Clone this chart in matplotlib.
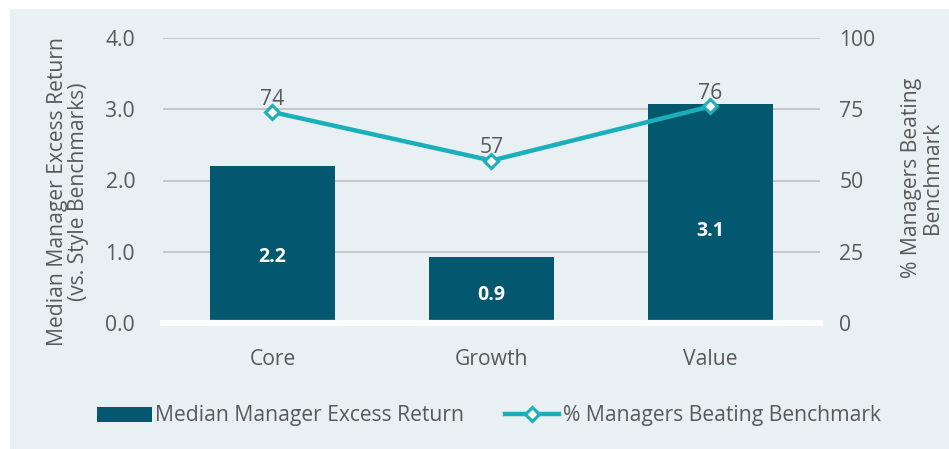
import matplotlib.pyplot as plt
from matplotlib.patches import Rectangle

categories = ["Core", "Growth", "Value"]
excess_return = [2.2, 0.93, 3.08]
excess_labels = ["2.2", "0.9", "3.1"]
pct_beating = [74, 57, 76]

bar_color = "#03576F"
line_color = "#1AAFBA"
text_color = "#595959"
bg_color = "#E8F0F3"
fs = 15.2

plt.rcParams["font.family"] = ["Open Sans", "DejaVu Sans"]

W, H = 949, 449
fig = plt.figure(figsize=(W / 100, H / 100), dpi=100, facecolor="white")
fig.patches.append(Rectangle((10 / W, 0), 1, 440 / H, transform=fig.transFigure,
                             facecolor=bg_color, edgecolor="none", zorder=-10))

ax = fig.add_axes([163 / W, 126 / H, 657 / W, 285 / H])
ax.set_facecolor("none")
x = range(len(categories))
bars = ax.bar(x, excess_return, width=0.57, color=bar_color, zorder=2,
              label="Median Manager Excess Return")
for xi, v, lab in zip(x, excess_return, excess_labels):
    ax.text(xi, v * 0.42, lab, ha="center", va="center", color="white",
            fontsize=14, fontweight="bold", zorder=3)

ax.set_xlim(-0.5, 2.5)
ax.set_ylim(0, 4)
ax.set_yticks([0, 1, 2, 3, 4])
ax.set_yticklabels(["0.0", "1.0", "2.0", "3.0", "4.0"])
ax.set_xticks(list(x))
ax.set_xticklabels(categories)
ax.grid(axis="y", color="#BFBFBF", linewidth=1.2, zorder=0)
ax.axhline(0, color="white", linewidth=4.5, zorder=2.5, clip_on=False)
for s in ax.spines.values():
    s.set_visible(False)
ax.tick_params(axis="both", length=0, colors=text_color, labelsize=fs)
ax.tick_params(axis="y", pad=20)
ax.tick_params(axis="x", pad=19)

ax2 = ax.twinx()
ax2.set_ylim(0, 100)
ax2.set_yticks([0, 25, 50, 75, 100])
line, = ax2.plot(list(x), pct_beating, color=line_color, linewidth=3.2, marker="D",
                 markersize=7, markerfacecolor="white", markeredgecolor=line_color,
                 markeredgewidth=2.2, zorder=4, label="% Managers Beating Benchmark")
for xi, v in zip(x, pct_beating):
    ax2.annotate(str(v), (xi, v), xytext=(0, 1.5), textcoords="offset points",
                 ha="center", va="bottom", color=text_color, fontsize=fs)
for s in ax2.spines.values():
    s.set_visible(False)
ax2.tick_params(axis="y", length=0, colors=text_color, labelsize=fs, pad=14)

# axis titles placed directly in figure pixels
fig.text(68 / W, 1 - 192 / H, "Median Manager Excess Return\n(vs. Style Benchmarks)",
         rotation=90, ha="center", va="center", color=text_color, fontsize=fs,
         linespacing=0.95, multialignment="center")
fig.text(922 / W, 1 - 178 / H, "% Managers Beating\nBenchmark",
         rotation=90, ha="center", va="center", color=text_color, fontsize=fs,
         linespacing=0.95, multialignment="center")

fig.legend([bars, line], ["Median Manager Excess Return", "% Managers Beating Benchmark"],
           loc="center", bbox_to_anchor=(489 / W, 1 - 416 / H), ncol=2,
           frameon=False, fontsize=fs, handlelength=2.6, handletextpad=0.15,
           columnspacing=1.9, labelcolor=text_color)

fig.savefig("out.png", dpi=100, facecolor="white")
